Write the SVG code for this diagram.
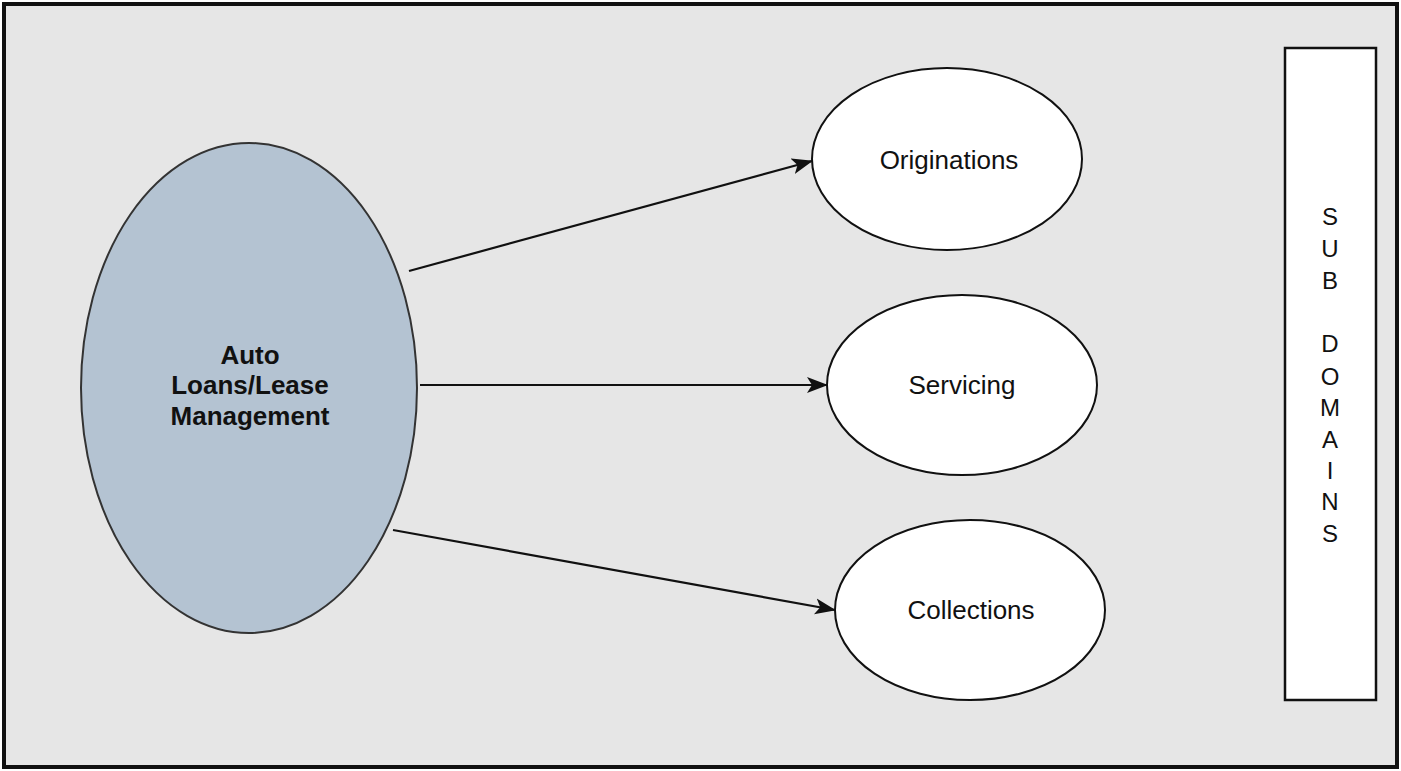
<svg xmlns="http://www.w3.org/2000/svg" width="1401" height="771" viewBox="0 0 1401 771">
<style>
.lbl{font-family:"Liberation Sans",Arial,sans-serif;font-size:26px;fill:#111;text-anchor:middle}
.bold{font-weight:bold}
.sub{stroke:#111;stroke-width:2;fill:#fff}
.conn{stroke:#111;stroke-width:2.2;fill:none}
</style>
<defs>
<marker id="arrow" markerWidth="22" markerHeight="18" refX="20" refY="9" orient="auto" markerUnits="userSpaceOnUse">
<path d="M0,1 L21,9 L0,17 L5,9 Z" fill="#111"/>
</marker>
</defs>
<rect x="4" y="4" width="1393" height="763" fill="#e6e6e6" stroke="#111" stroke-width="4"/>
<g id="main">
<ellipse cx="249" cy="388" rx="168" ry="245" fill="#b4c3d2" stroke="#333" stroke-width="2"/>
<text class="lbl bold" x="249"><tspan x="250" y="364">Auto</tspan><tspan x="250" y="394">Loans/Lease</tspan><tspan x="250" y="425">Management</tspan></text>
</g>
<g id="originations">
<ellipse class="sub" cx="947" cy="159" rx="135" ry="91"/>
<text class="lbl" x="949" y="169">Originations</text>
</g>
<g id="servicing">
<ellipse class="sub" cx="962" cy="385" rx="135" ry="90"/>
<text class="lbl" x="962" y="394">Servicing</text>
</g>
<g id="collections">
<ellipse class="sub" cx="970" cy="610" rx="135" ry="90"/>
<text class="lbl" x="971" y="619">Collections</text>
</g>
<g id="subdomains">
<rect x="1285" y="48" width="91" height="652" fill="#fff" stroke="#111" stroke-width="2.5"/>
<text class="lbl" style="font-size:24px">
<tspan x="1330" y="225">S</tspan><tspan x="1330" y="257">U</tspan><tspan x="1330" y="289">B</tspan><tspan x="1330" y="352">D</tspan><tspan x="1330" y="385">O</tspan><tspan x="1330" y="416">M</tspan><tspan x="1330" y="448">A</tspan><tspan x="1330" y="479">I</tspan><tspan x="1330" y="510">N</tspan><tspan x="1330" y="542">S</tspan>
</text>
</g>
<g id="connectors">
<line class="conn" x1="409" y1="271" x2="812" y2="161" marker-end="url(#arrow)"/>
<line class="conn" x1="420" y1="385" x2="827" y2="385" marker-end="url(#arrow)"/>
<line class="conn" x1="393" y1="530" x2="835" y2="610" marker-end="url(#arrow)"/>
</g>
</svg>
